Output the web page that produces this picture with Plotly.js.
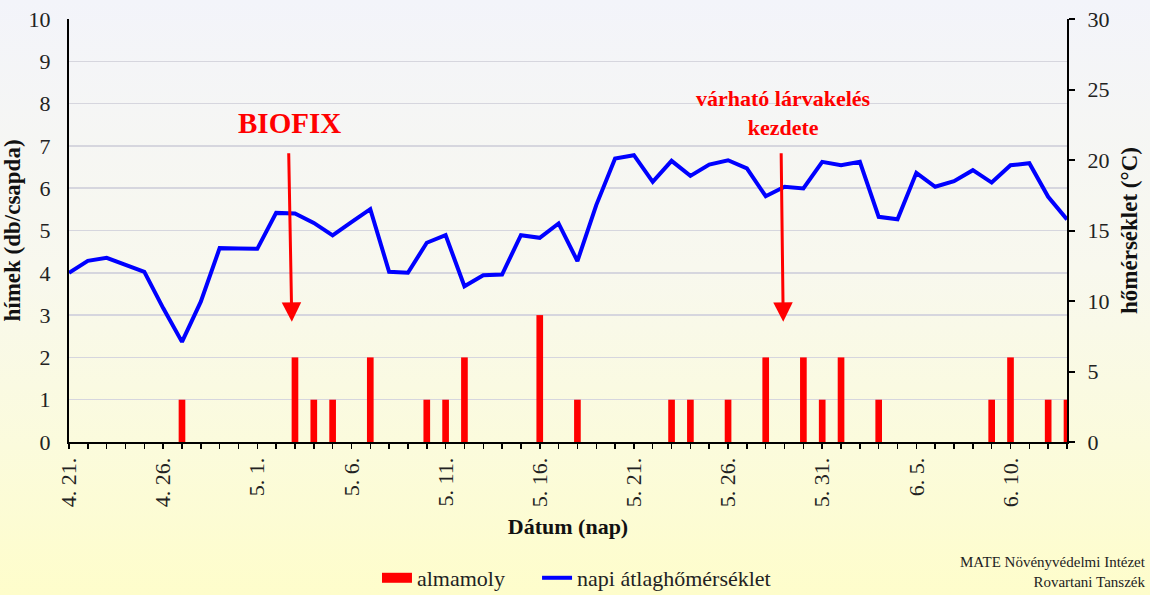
<!DOCTYPE html>
<html>
<head>
<meta charset="utf-8">
<script src="https://cdn.plot.ly/plotly-3.0.1.min.js"></script>
<style>
html,body{margin:0;padding:0;}
body{width:1150px;height:595px;background:linear-gradient(to bottom,#f3f4fa 0%,#f8f8ee 45%,#fbfbdc 75%,#fefdcb 100%);}
#chart{width:1150px;height:595px;}
</style>
</head>
<body>
<div id="chart"></div>
<script>
// Dates (day by day, 2024-04-21 .. 2024-06-13)
const dates = [
 '2024-04-21','2024-04-22','2024-04-23','2024-04-24','2024-04-25','2024-04-26','2024-04-27','2024-04-28','2024-04-29','2024-04-30',
 '2024-05-01','2024-05-02','2024-05-03','2024-05-04','2024-05-05','2024-05-06','2024-05-07','2024-05-08','2024-05-09','2024-05-10',
 '2024-05-11','2024-05-12','2024-05-13','2024-05-14','2024-05-15','2024-05-16','2024-05-17','2024-05-18','2024-05-19','2024-05-20',
 '2024-05-21','2024-05-22','2024-05-23','2024-05-24','2024-05-25','2024-05-26','2024-05-27','2024-05-28','2024-05-29','2024-05-30',
 '2024-05-31','2024-06-01','2024-06-02','2024-06-03','2024-06-04','2024-06-05','2024-06-06','2024-06-07','2024-06-08','2024-06-09',
 '2024-06-10','2024-06-11','2024-06-12','2024-06-13'
];
// Male moths caught per trap (almamoly)
const almamoly = [
 0,0,0,0,0,0,1,0,0,0,
 0,0,2,1,1,0,2,0,0,1,
 1,2,0,0,0,3,0,1,0,0,
 0,0,1,1,0,1,0,2,0,2,
 1,2,0,1,0,0,0,0,0,1,
 2,0,1,1
];
// Daily mean temperature (°C)
const homerseklet = [
 12.0,12.85,13.06,12.6,12.07,9.5,7.1,9.95,13.75,13.72,
 13.7,16.25,16.2,15.54,14.65,15.6,16.51,12.07,12.0,14.13,
 14.67,11.05,11.83,11.88,14.67,14.48,15.5,12.83,16.8,20.1,
 20.34,18.45,19.94,18.87,19.68,19.98,19.4,17.43,18.1,17.98,
 19.87,19.63,19.87,15.97,15.8,19.09,18.1,18.5,19.28,18.4,
 19.63,19.77,17.39,15.78
];
const tickDates = ['2024-04-21','2024-04-26','2024-05-01','2024-05-06','2024-05-11','2024-05-16','2024-05-21','2024-05-26','2024-05-31','2024-06-05','2024-06-10'];
const tickLabels = ['4. 21.','4. 26.','5. 1.','5. 6.','5. 11.','5. 16.','5. 21.','5. 26.','5. 31.','6. 5.','6. 10.'];

const serif = "'Liberation Serif', 'Times New Roman', serif";
const DAY = 86400000;

const traces = [
 {type:'bar', x:dates, y:almamoly, name:'almamoly', yaxis:'y', legendgroup:'a', showlegend:false,
  marker:{color:'#ff0000'}, width:0.354*DAY},
 // legend swatch for the bar series (wide red rectangle, as in the original legend)
 {type:'scatter', mode:'lines', x:[null], y:[null], name:'almamoly', legendgroup:'a', legend:'legend', yaxis:'y',
  line:{color:'#ff0000', width:12}, hoverinfo:'skip'},
 {type:'scatter', mode:'lines', x:dates, y:homerseklet, name:'napi átlaghőmérséklet', yaxis:'y2', legend:'legend2',
  line:{color:'#0000ff', width:4}}
];

const legendStyle = {orientation:'h', xref:'container', yref:'container', xanchor:'left', y:0.0286, yanchor:'middle',
  font:{family:serif, size:22, color:'#222'}, bgcolor:'rgba(0,0,0,0)', itemwidth:30};

const layout = {
 width:1150, height:595,
 paper_bgcolor:'rgba(0,0,0,0)', plot_bgcolor:'rgba(0,0,0,0)',
 margin:{l:69, r:83, t:19, b:153},
 font:{family:serif, color:'#222', size:22},
 showlegend:true,
 legend:Object.assign({}, legendStyle, {x:0.3278}),
 legend2:Object.assign({}, legendStyle, {x:0.4670}),
 xaxis:{type:'date', range:['2024-04-21','2024-06-13'], automargin:false,
  tickmode:'array', tickvals:tickDates, ticktext:tickLabels, tickangle:-90,
  ticks:'outside', ticklen:5, tickcolor:'#000', tickwidth:1.5,
  minor:{ticks:'outside', ticklen:5, tickcolor:'#000', tickwidth:1.5, dtick:DAY, tick0:'2024-04-21', showgrid:false},
  showline:true, linecolor:'#000', linewidth:2, showgrid:false, zeroline:false,
  tickfont:{family:serif, size:22, color:'#222'},
  title:{text:'<b>Dátum (nap)</b>', font:{family:serif, size:22, color:'#111'}, standoff:12}},
 yaxis:{range:[0,10], dtick:1, showline:true, linecolor:'#000', linewidth:2, automargin:false,
  showgrid:true, gridcolor:'#d6d6de', gridwidth:1.5, zeroline:false, ticks:'',
  ticklabelstandoff:12,
  tickfont:{family:serif, size:22, color:'#222'},
  title:{text:'<b>hímek (db/csapda)</b>', font:{family:serif, size:23, color:'#111'}, standoff:8}},
 yaxis2:{range:[0,30], dtick:5, overlaying:'y', side:'right', showline:true, linecolor:'#000', linewidth:2, automargin:false,
  showgrid:false, zeroline:false, ticks:'outside', ticklen:6, tickcolor:'#000', tickwidth:2,
  ticklabelstandoff:8,
  tickfont:{family:serif, size:22, color:'#222'},
  title:{text:'<b>hőmérséklet (°C)</b>', font:{family:serif, size:23, color:'#111'}, standoff:12}},
 annotations:[
  {xref:'x', yref:'y', x:'2024-05-02 17:20', y:7.54, text:'<b>BIOFIX</b>', showarrow:false,
   font:{family:serif, size:29, color:'#ff0000'}},
  {xref:'x', yref:'y', x:'2024-05-02 20:00', y:2.84, axref:'x', ayref:'y', ax:'2024-05-02 16:00', ay:6.86,
   text:'', showarrow:true, arrowhead:2, arrowsize:1.3, arrowwidth:3, arrowcolor:'#ff0000'},
  {xref:'x', yref:'y', x:'2024-05-28 22:20', y:7.78, text:'<b>várható lárvakelés<br>kezdete</b>', showarrow:false,
   font:{family:serif, size:22, color:'#ff0000'}},
  {xref:'x', yref:'y', x:'2024-05-28 22:20', y:2.84, axref:'x', ayref:'y', ax:'2024-05-28 19:40', ay:6.86,
   text:'', showarrow:true, arrowhead:2, arrowsize:1.3, arrowwidth:3, arrowcolor:'#ff0000'},
  {xref:'paper', yref:'paper', x:1.0815, y:-0.307, xanchor:'right', yanchor:'middle', align:'right',
   text:'MATE Növényvédelmi Intézet<br>Rovartani Tanszék', showarrow:false,
   font:{family:serif, size:15, color:'#222'}}
 ]
};

Plotly.newPlot('chart', traces, layout, {displayModeBar:false, staticPlot:true});
</script>
</body>
</html>
